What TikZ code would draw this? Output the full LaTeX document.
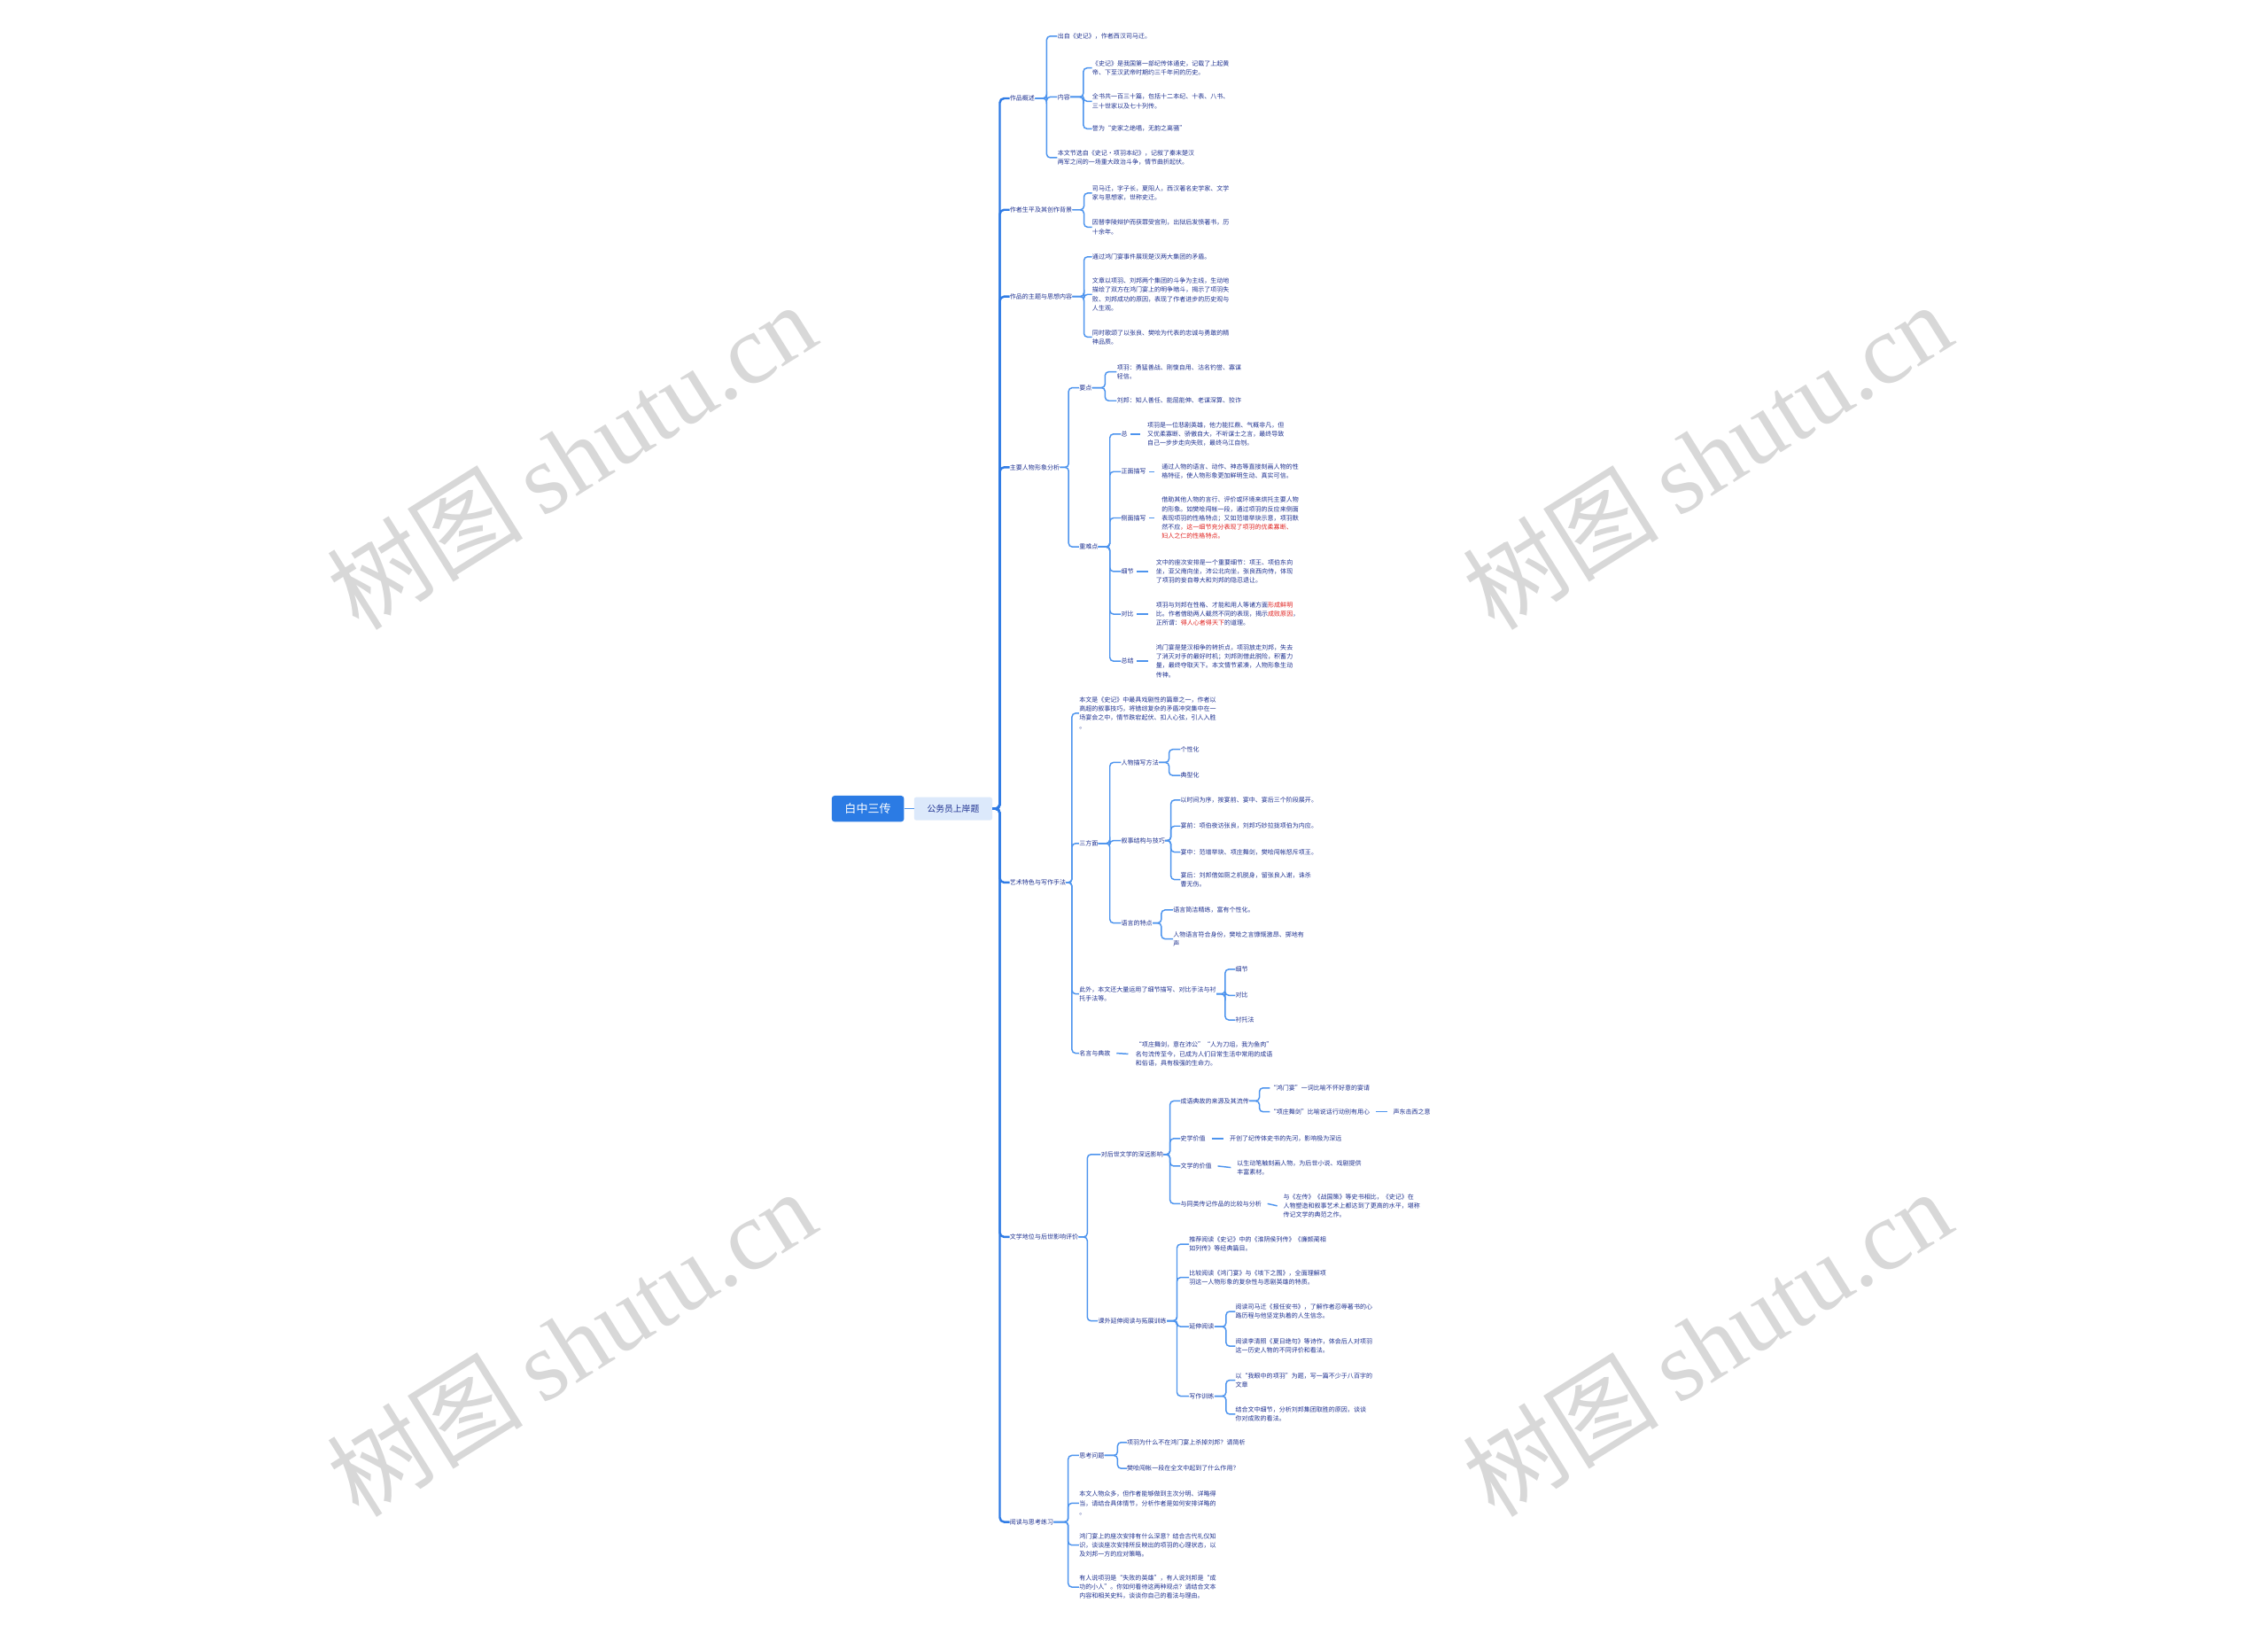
\documentclass[tikz,border=0pt]{standalone}
\usepackage{fontspec}
\setmainfont{Noto Sans CJK SC}
\newfontfamily\wmcjk{Noto Sans CJK SC}
\newfontfamily\wmlatin{Liberation Serif}
\definecolor{navy}{HTML}{1E3190}
\definecolor{redt}{HTML}{E0201E}
\definecolor{subblue}{HTML}{4D94EE}
\definecolor{trunkblue}{HTML}{2F7BE5}
\definecolor{rootblue}{HTML}{2B7BE4}
\definecolor{lightbox}{HTML}{DCE9FB}
\definecolor{wmgray}{HTML}{D8D8D8}
\tikzset{
  lf/.style={anchor=west, inner sep=0pt, align=left, text=navy, font=\fontsize{4.3}{6.2}\selectfont},
  conn/.style={draw=subblue, line width=0.9pt, rounded corners=2.5pt},
  trunkln/.style={draw=trunkblue, line width=1.5pt, rounded corners=3pt},
  rootbox/.style={fill=rootblue, rounded corners=2pt, text=white, font=\fontsize{8}{8}\selectfont, minimum width=50pt, minimum height=18pt, inner sep=0pt},
  subbox/.style={fill=lightbox, rounded corners=1.5pt, text=navy, font=\fontsize{6}{6}\selectfont, minimum width=54pt, minimum height=16pt, inner sep=0pt},
  wm/.style={rotate=32, text=wmgray, inner sep=0pt, font=\fontsize{68}{68}\selectfont},
}
\begin{document}
\begin{tikzpicture}[x=1pt,y=-1pt]
\useasboundingbox (0,0) rectangle (1568,1129);
\fill[white] (0,0) rectangle (1568,1129);
% watermarks
\node[wm] (wm1) at (395,315) {\wmcjk 树图\hspace{0.2em}\wmlatin shutu.cn};
\node[wm] (wm2) at (1180,315) {\wmcjk 树图\hspace{0.2em}\wmlatin shutu.cn};
\node[wm] (wm3) at (395,928) {\wmcjk 树图\hspace{0.2em}\wmlatin shutu.cn};
\node[wm] (wm4) at (1180,928) {\wmcjk 树图\hspace{0.2em}\wmlatin shutu.cn};

% root
\node[rootbox] (root) at (600,559) {白中三传};
\node[subbox] (top) at (659,559) {公务员上岸题};
\draw[conn] (root.east) -- (top.west);

% level 1
\node[lf] (A) at (698,68) {作品概述};
\node[lf] (B) at (698,145) {作者生平及其创作背景};
\node[lf] (C) at (698,205) {作品的主题与思想内容};
\node[lf] (D) at (698,323) {主要人物形象分析};
\node[lf] (E) at (698,610) {艺术特色与写作手法};
\node[lf] (F) at (698,855) {文学地位与后世影响评价};
\node[lf] (G) at (698,1052) {阅读与思考练习};
\foreach \c in {A,B,C,D,E,F,G} \draw[trunkln] (top.east) -- ++(5,0) |- (\c.west);

% subtree A
\node[lf] (A1) at (731,25) {出自《史记》，作者西汉司马迁。};
\node[lf] (A2) at (731,67) {内容};
\node[lf] (A3) at (731,109) {本文节选自《史记·项羽本纪》，记叙了秦末楚汉\\两军之间的一场重大政治斗争，情节曲折起伏。};
\foreach \c in {A1,A2,A3} \draw[conn] (A.east) -- ++(8,0) |- (\c.west);
\node[lf] (A21) at (755,47) {《史记》是我国第一部纪传体通史，记载了上起黄\\帝、下至汉武帝时期约三千年间的历史。};
\node[lf] (A22) at (755,70) {全书共一百三十篇，包括十二本纪、十表、八书、\\三十世家以及七十列传。};
\node[lf] (A23) at (755,89) {誉为“史家之绝唱，无韵之离骚”};
\foreach \c in {A21,A22,A23} \draw[conn] (A2.east) -- ++(9,0) |- (\c.west);

% subtree B
\node[lf] (B1) at (755,133.5) {司马迁，字子长，夏阳人，西汉著名史学家、文学\\ 家与思想家，世称史迁。};
\node[lf] (B2) at (755,157) {因替李陵辩护而获罪受宫刑，出狱后发愤著书，历\\ 十余年。};
\foreach \c in {B1,B2} \draw[conn] (B.east) -- ++(8,0) |- (\c.west);

% subtree C
\node[lf] (C1) at (755,177.5) {通过鸿门宴事件展现楚汉两大集团的矛盾。};
\node[lf] (C2) at (755,203.5) {文章以项羽、刘邦两个集团的斗争为主线，生动地\\描绘了双方在鸿门宴上的明争暗斗，揭示了项羽失\\败、刘邦成功的原因，表现了作者进步的历史观与\\人生观。};
\node[lf] (C3) at (755,233) {同时歌颂了以张良、樊哙为代表的忠诚与勇敢的精\\ 神品质。};
\foreach \c in {C1,C2,C3} \draw[conn] (C.east) -- ++(8,0) |- (\c.west);

% subtree D
\node[lf] (D1) at (746,268) {要点};
\node[lf] (D2) at (746,378) {重难点};
\foreach \c in {D1,D2} \draw[conn] (D.east) -- ++(6,0) |- (\c.west);
\node[lf] (D11) at (772,257) {项羽：勇猛善战、刚愎自用、沽名钓誉、寡谋\\轻信。};
\node[lf] (D12) at (772,277) {刘邦：知人善任、能屈能伸、老谋深算、狡诈};
\foreach \c in {D11,D12} \draw[conn] (D1.east) -- ++(9,0) |- (\c.west);
\node[lf] (D21) at (775,300) {总};
\node[lf] (D22) at (775,326) {正面描写};
\node[lf] (D23) at (775,358) {侧面描写};
\node[lf] (D24) at (775,395) {细节};
\node[lf] (D25) at (775,424.5) {对比};
\node[lf] (D26) at (775,457) {总结};
\foreach \c in {D21,D22,D23,D24,D25,D26} \draw[conn] (D2.east) -- ++(8,0) |- (\c.west);
\node[lf] (D21t) at (793,300) {项羽是一位悲剧英雄，他力能扛鼎、气概非凡，但\\又优柔寡断、骄傲自大，不听谋士之言，最终导致\\自己一步步走向失败，最终乌江自刎。};
\node[lf] (D22t) at (803,326) {通过人物的语言、动作、神态等直接刻画人物的性\\格特征，使人物形象更加鲜明生动、真实可信。};
\node[lf] (D23t) at (803,358) {借助其他人物的言行、评价或环境来烘托主要人物\\的形象。如樊哙闯帐一段，通过项羽的反应来侧面\\表现项羽的性格特点；又如范增举玦示意，项羽默\\然不应\textcolor{redt}{，这一细节充分表现了项羽的优柔寡断、}\\\textcolor{redt}{妇人之仁的性格特点。}};
\node[lf] (D24t) at (799,395) {文中的座次安排是一个重要细节：项王、项伯东向\\坐，亚父南向坐，沛公北向坐，张良西向侍，体现\\了项羽的妄自尊大和刘邦的隐忍退让。};
\node[lf] (D25t) at (799,424.5) {项羽与刘邦在性格、才能和用人等诸方面\textcolor{redt}{形成鲜明}\\比。作者借助两人截然不同的表现，揭示\textcolor{redt}{成败原因}，\\正所谓：\textcolor{redt}{得人心者得天下}的道理。};
\node[lf] (D26t) at (799,457) {鸿门宴是楚汉相争的转折点，项羽放走刘邦，失去\\了消灭对手的最好时机；刘邦则借此脱险，积蓄力\\量，最终夺取天下。本文情节紧凑，人物形象生动\\传神。};
\foreach \c in {D21,D22,D23,D24,D25,D26} \draw[conn] ([xshift=2pt]\c.east) -- ([xshift=-5pt]\c t.west);

% subtree E
\node[lf] (E1) at (746,493) {本文是《史记》中最具戏剧性的篇章之一，作者以\\高超的叙事技巧，将错综复杂的矛盾冲突集中在一\\场宴会之中，情节跌宕起伏、扣人心弦，引人入胜\\。};
\node[lf] (E2) at (746,583) {三方面};
\node[lf] (E3) at (746,687) {此外，本文还大量运用了细节描写、对比手法与衬\\托手法等。};
\node[lf] (E4) at (746,728) {名言与典故};
\foreach \c in {E1,E2,E3,E4} \draw[conn] (E.east) -- ++(4,0) |- (\c.west);
\node[lf] (E21) at (775,527) {人物描写方法};
\node[lf] (E22) at (775,581) {叙事结构与技巧};
\node[lf] (E23) at (775,638) {语言的特点};
\foreach \c in {E21,E22,E23} \draw[conn] (E2.east) -- ++(8,0) |- (\c.west);
\node[lf] (E211) at (816,518) {个性化};
\node[lf] (E212) at (816,536) {典型化};
\foreach \c in {E211,E212} \draw[conn] (E21.east) -- ++(7,0) |- (\c.west);
\node[lf] (E221) at (816,553) {以时间为序，按宴前、宴中、宴后三个阶段展开。};
\node[lf] (E222) at (816,571) {宴前：项伯夜访张良，刘邦巧妙拉拢项伯为内应。};
\node[lf] (E223) at (816,589) {宴中：范增举玦、项庄舞剑，樊哙闯帐怒斥项王。};
\node[lf] (E224) at (816,608) {宴后：刘邦借如厕之机脱身，留张良入谢，诛杀\\曹无伤。};
\foreach \c in {E221,E222,E223,E224} \draw[conn] (E22.east) -- ++(4,0) |- (\c.west);
\node[lf] (E231) at (811,629) {语言简洁精练，富有个性化。};
\node[lf] (E232) at (811,649) { 人物语言符合身份，樊哙之言慷慨激昂、掷地有\\声};
\foreach \c in {E231,E232} \draw[conn] (E23.east) -- ++(6,0) |- (\c.west);
\node[lf] (E31) at (854,670) {细节};
\node[lf] (E32) at (854,688) {对比};
\node[lf] (E33) at (854,705) {衬托法};
\foreach \c in {E31,E32,E33} \draw[conn] (E3.east) -- ++(6,0) |- (\c.west);
\node[lf] (E4t) at (785,728.5) {“项庄舞剑，意在沛公”“人为刀俎，我为鱼肉”\\名句流传至今，已成为人们日常生活中常用的成语\\和俗语，具有极强的生命力。};
\draw[conn] ([xshift=4pt]E4.east) -- ([xshift=-5pt]E4t.west);

% subtree F
\node[lf] (F1) at (761,798) {对后世文学的深远影响};
\node[lf] (F2) at (759,913) {课外延伸阅读与拓展训练};
\foreach \c in {F1,F2} \draw[conn] (F.east) -- ++(6,0) |- (\c.west);
\node[lf] (F11) at (816,761) {成语典故的来源及其流传};
\node[lf] (F12) at (816,787) {史学价值};
\node[lf] (F13) at (816,806) {文学的价值};
\node[lf] (F14) at (816,832) {与同类传记作品的比较与分析};
\foreach \c in {F11,F12,F13,F14} \draw[conn] (F1.east) -- ++(4.5,0) |- (\c.west);
\node[lf] (F111) at (878,752) {“鸿门宴”一词比喻不怀好意的宴请};
\node[lf] (F112) at (878,768.5) {“项庄舞剑”比喻说话行动别有用心};
\foreach \c in {F111,F112} \draw[conn] (F11.east) -- ++(7,0) |- (\c.west);
\node[lf] (F112t) at (963,768.5) {声东击西之意};
\draw[conn] ([xshift=4pt]F112.east) -- ([xshift=-4pt]F112t.west);
\node[lf] (F12t) at (850,787) {开创了纪传体史书的先河，影响极为深远};
\draw[conn] ([xshift=4pt]F12.east) -- ([xshift=-4pt]F12t.west);
\node[lf] (F13t) at (855,807) {以生动笔触刻画人物，为后世小说、戏剧提供\\丰富素材。};
\draw[conn] ([xshift=4pt]F13.east) -- ([xshift=-4pt]F13t.west);
\node[lf] (F14t) at (887,833.5) {与《左传》《战国策》等史书相比，《史记》在\\人物塑造和叙事艺术上都达到了更高的水平，堪称\\传记文学的典范之作。};
\draw[conn] ([xshift=4pt]F14.east) -- ([xshift=-4pt]F14t.west);
\node[lf] (F21) at (822,860) {推荐阅读《史记》中的《淮阴侯列传》《廉颇蔺相\\如列传》等经典篇目。};
\node[lf] (F22) at (822,883) {比较阅读《鸿门宴》与《垓下之围》，全面理解项\\羽这一人物形象的复杂性与悲剧英雄的特质。};
\node[lf] (F23) at (822,917) {延伸阅读};
\node[lf] (F24) at (822,965) {写作训练};
\foreach \c in {F21,F22,F23,F24} \draw[conn] (F2.east) -- ++(7,0) |- (\c.west);
\node[lf] (F231) at (854,906.5) {阅读司马迁《报任安书》，了解作者忍辱著书的心\\路历程与他坚定执着的人生信念。};
\node[lf] (F232) at (854,930.5) {阅读李清照《夏日绝句》等诗作，体会后人对项羽\\这一历史人物的不同评价和看法。};
\foreach \c in {F231,F232} \draw[conn] (F23.east) -- ++(8,0) |- (\c.west);
\node[lf] (F241) at (854,954) {以“我眼中的项羽”为题，写一篇不少于八百字的\\文章};
\node[lf] (F242) at (854,977.5) {结合文中细节，分析刘邦集团取胜的原因，谈谈\\你对成败的看法。};
\foreach \c in {F241,F242} \draw[conn] (F24.east) -- ++(8,0) |- (\c.west);

% subtree G
\node[lf] (G1) at (746,1006) {思考问题};
\node[lf] (G2) at (746,1039) {本文人物众多，但作者能够做到主次分明、详略得\\当，请结合具体情节，分析作者是如何安排详略的\\。};
\node[lf] (G3) at (746,1068) {鸿门宴上的座次安排有什么深意？结合古代礼仪知\\识，谈谈座次安排所反映出的项羽的心理状态，以\\及刘邦一方的应对策略。};
\node[lf] (G4) at (746,1097) {有人说项羽是“失败的英雄”，有人说刘邦是“成\\功的小人”。你如何看待这两种观点？请结合文本\\内容和相关史料，谈谈你自己的看法与理由。};
\foreach \c in {G1,G2,G3,G4} \draw[conn] (G.east) -- ++(10,0) |- (\c.west);
\node[lf] (G11) at (779,997) {项羽为什么不在鸿门宴上杀掉刘邦？请简析};
\node[lf] (G12) at (779,1015) {樊哙闯帐一段在全文中起到了什么作用？};
\foreach \c in {G11,G12} \draw[conn] (G1.east) -- ++(9,0) |- (\c.west);
\end{tikzpicture}
\end{document}
